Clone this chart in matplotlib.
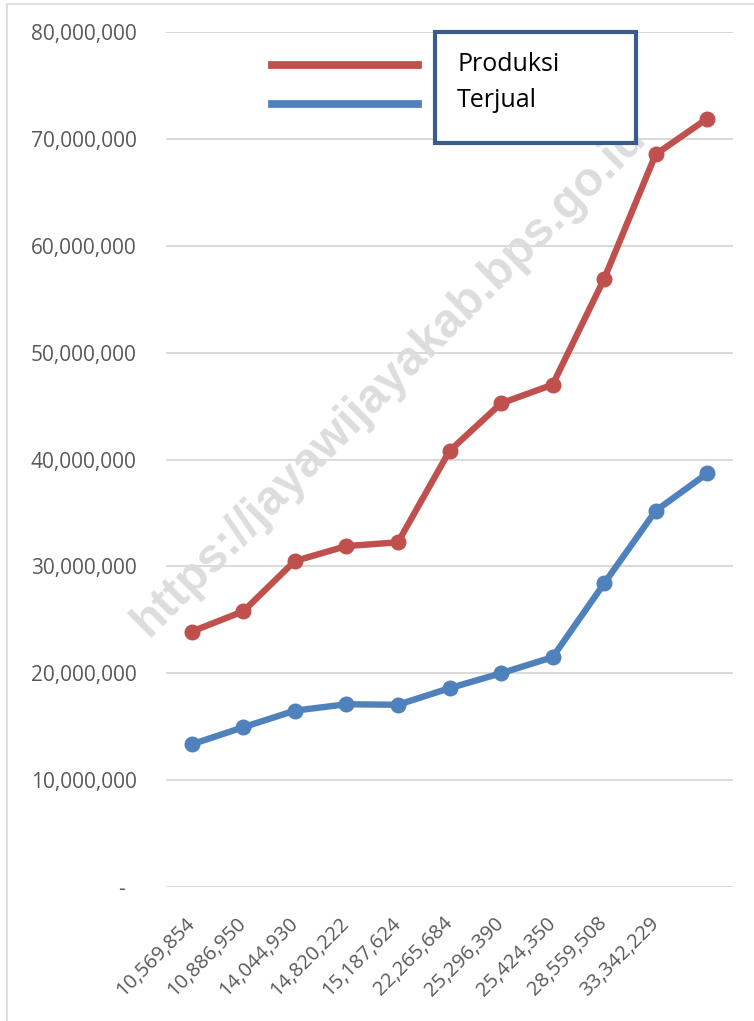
import numpy as np
import matplotlib
matplotlib.use("Agg")
import matplotlib.pyplot as plt
from matplotlib.lines import Line2D
from matplotlib.patches import Rectangle
from matplotlib.ticker import FuncFormatter

# data
x_labels = ["10,569,854", "10,886,950", "14,044,930", "14,820,222", "15,187,624",
            "22,265,684", "25,296,390", "25,424,350", "28,559,508", "33,342,229", ""]
produksi = [23.9e6, 25.8e6, 30.5e6, 31.9e6, 32.25e6, 40.8e6,
            45.25e6, 47.0e6, 56.9e6, 68.55e6, 71.9e6]
terjual = [13.35e6, 14.95e6, 16.5e6, 17.1e6, 17.05e6, 18.6e6,
           20.0e6, 21.5e6, 28.4e6, 35.2e6, 38.7e6]
series_names = ["Produksi", "Terjual"]
colors = ["#C0504D", "#4F81BD"]

W, H = 754, 1021
plt.rcParams['font.family'] = ['Open Sans', 'DejaVu Sans']

fig = plt.figure(figsize=(W / 100, H / 100), dpi=100)
ax = fig.add_axes([166 / W, 1 - 887 / H, (733 - 166) / W, (887 - 32) / H])

x = np.arange(len(x_labels))
for vals, c in zip([produksi, terjual], colors):
    ax.plot(x, vals, color=c, lw=4.6, marker='o', ms=10.5,
            solid_capstyle='round', zorder=3)

ax.set_xlim(-0.5, len(x_labels) - 0.5)
ax.set_ylim(0, 80e6)
ax.set_yticks(np.arange(0, 80e6 + 1, 10e6))
ax.yaxis.set_major_formatter(FuncFormatter(lambda v, p: "-  " if v == 0 else f"{v:,.0f}"))
ax.grid(axis='y', color='#d9d9d9', lw=1.4, zorder=0)
ax.set_axisbelow(True)
for s in ax.spines.values():
    s.set_visible(False)

ax.set_xticks(x)
ax.set_xticklabels(x_labels, rotation=45, ha='right', va='center',
                   rotation_mode='anchor')
ax.tick_params(axis='x', length=0, pad=24, labelsize=14.5, labelcolor='#595959')
ax.tick_params(axis='y', length=0, pad=21, labelsize=15, labelcolor='#595959')

# watermark (under the lines and the legend box)
ax.text(389 / W, 1 - 380 / H, "https://jayawijayakab.bps.go.id",
        transform=fig.transFigure, family='Liberation Sans', fontweight='bold',
        fontsize=34.5, color='#dddddd', rotation=45, ha='center', va='center',
        zorder=2, clip_on=False)

# chart border
fig.add_artist(Rectangle((6.5 / W, -0.1), 1.2, 1 - 4.5 / H + 0.1,
                         transform=fig.transFigure, fill=False,
                         ec='#d9d9d9', lw=1.2))

# legend: lines outside, names inside a box
for c, yy in zip(colors, [65, 104]):
    fig.add_artist(Line2D([272 / W, 418 / W], [1 - yy / H, 1 - yy / H],
                          color=c, lw=5.6, transform=fig.transFigure))
fig.add_artist(Rectangle((435 / W, 1 - 143 / H), (636 - 435) / W, (143 - 32) / H,
                         transform=fig.transFigure, facecolor='white',
                         ec='#385D8A', lw=3, zorder=5))
for name, yy in zip(series_names, [71, 107]):
    fig.text(457 / W, 1 - yy / H, name, fontsize=18, color='black',
             ha='left', va='baseline', zorder=6)

fig.savefig("out.png", dpi=100)
